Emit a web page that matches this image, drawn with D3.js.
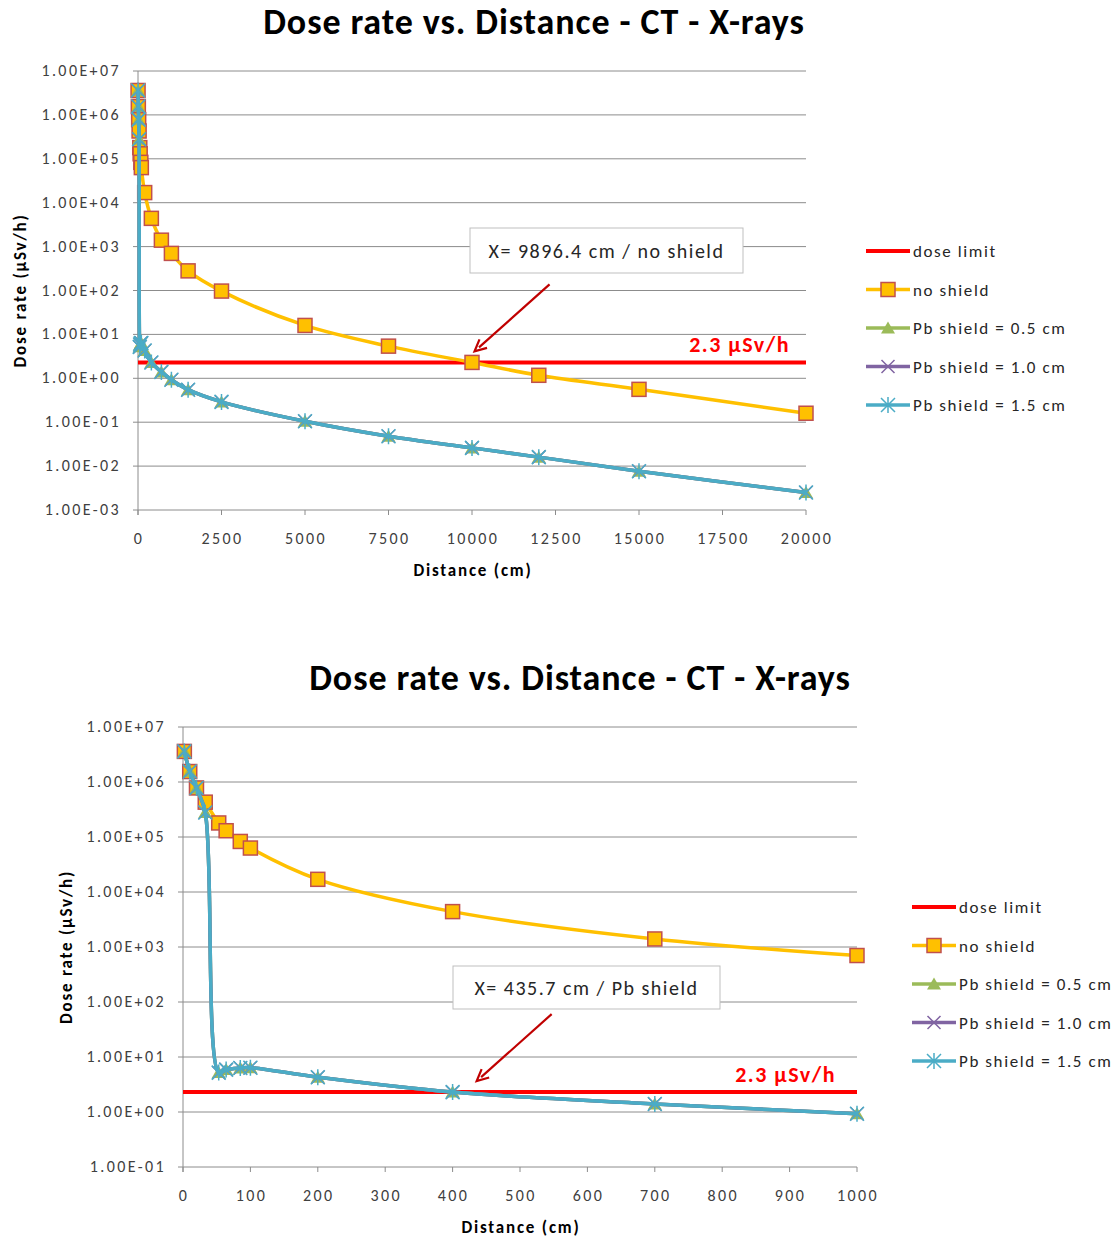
<!DOCTYPE html>
<html>
<head>
<meta charset="utf-8">
<script src="https://cdn.jsdelivr.net/npm/d3@7"></script>
<style>
  body { margin: 0; background: #fff; }
  svg text { font-family: Carlito, Lato, "Open Sans", sans-serif; }
</style>
</head>
<body>
<svg id="chart" width="1117" height="1239"></svg>
<script>
// distances (cm) and dose rates (µSv/h)
const distance = [2, 10, 20, 33, 53, 64, 85, 100, 200, 400, 700, 1000, 1500, 2500, 5000, 7500, 10000, 12000, 15000, 20000];
const noShield = [3.6e6, 1.55e6, 7.8e5, 4.3e5, 1.8e5, 1.3e5, 8.3e4, 6.3e4, 1.7e4, 4.4e3, 1.4e3, 700, 280, 97, 16, 5.4, 2.3, 1.17, 0.56, 0.16];
const pb05 = [3.6e6, 1.55e6, 7.8e5, 2.8e5, 5.2, 5.9, 6.3, 6.4, 4.3, 2.3, 1.4, 0.93, 0.55, 0.29, 0.105, 0.048, 0.026, 0.016, 0.0076, 0.0025];
const pb10 = [3.6e6, 1.55e6, 7.8e5, 2.8e5, 5.2, 5.9, 6.3, 6.4, 4.3, 2.3, 1.4, 0.93, 0.55, 0.29, 0.105, 0.048, 0.026, 0.016, 0.0076, 0.0025];
const pb15 = [3.6e6, 1.55e6, 7.8e5, 2.8e5, 5.2, 5.9, 6.3, 6.4, 4.3, 2.3, 1.4, 0.93, 0.55, 0.29, 0.105, 0.048, 0.026, 0.016, 0.0076, 0.0025];
const doseLimit = 2.3;

const topXTicks = [0, 2500, 5000, 7500, 10000, 12500, 15000, 17500, 20000];
const topYTicks = [1e7, 1e6, 1e5, 1e4, 1e3, 1e2, 1e1, 1e0, 1e-1, 1e-2, 1e-3];
const bottomXTicks = [0, 100, 200, 300, 400, 500, 600, 700, 800, 900, 1000];
const bottomYTicks = [1e7, 1e6, 1e5, 1e4, 1e3, 1e2, 1e1, 1e0, 1e-1];

const seriesNames = ['dose limit', 'no shield', 'Pb shield = 0.5 cm', 'Pb shield = 1.0 cm', 'Pb shield = 1.5 cm'];
const seriesValues = [null, noShield, pb05, pb10, pb15];
const seriesColors = ['#ff0000', '#ffc000', '#9bbb59', '#8064a2', '#4bacc6'];
const seriesMarkers = [null, 'square', 'triangle', 'x', 'star'];

const svg = d3.select('#chart');

function sci(v) {
  const e = Math.round(Math.log10(v));
  const s = e < 0 ? '-' : '+';
  return '1.00E' + s + String(Math.abs(e)).padStart(2, '0');
}

function marker(g, type, color, x, y) {
  if (type === 'square') {
    g.append('rect').attr('x', x - 7).attr('y', y - 7).attr('width', 14).attr('height', 14)
      .attr('fill', '#ffc000').attr('stroke', '#c0504d').attr('stroke-width', 1.5);
  } else if (type === 'triangle') {
    g.append('path').attr('d', `M${x},${y - 6.5}L${x + 7},${y + 5.5}L${x - 7},${y + 5.5}Z`)
      .attr('fill', color);
  } else if (type === 'x') {
    g.append('path').attr('d', `M${x - 6.5},${y - 6.5}L${x + 6.5},${y + 6.5}M${x - 6.5},${y + 6.5}L${x + 6.5},${y - 6.5}`)
      .attr('stroke', color).attr('stroke-width', 1.5);
  } else if (type === 'star') {
    g.append('path').attr('d', `M${x - 7},${y - 7}L${x + 7},${y + 7}M${x - 7},${y + 7}L${x + 7},${y - 7}M${x},${y - 8}L${x},${y + 8}`)
      .attr('stroke', color).attr('stroke-width', 1.5);
  }
}

function drawChart(c) {
  const g = svg.append('g');
  const x = d3.scaleLinear().domain([0, c.xMax]).range([c.left, c.right]);
  const y = d3.scaleLog().domain([c.yMin, 1e7]).range([c.bottom, c.top]);

  // title
  g.append('text').attr('x', c.titleX).attr('y', c.titleY).attr('text-anchor', 'middle')
    .attr('font-size', 36).attr('font-weight', 'bold').attr('letter-spacing', 0.9).attr('fill', '#000')
    .text('Dose rate vs. Distance - CT - X-rays');

  // gridlines + y labels
  c.yTicks.forEach(t => {
    g.append('line').attr('x1', c.left - 5).attr('x2', c.right)
      .attr('y1', y(t)).attr('y2', y(t)).attr('stroke', '#8c8c8c').attr('stroke-width', 1);
    g.append('text').attr('x', c.left - 17).attr('y', y(t) + 5).attr('text-anchor', 'end')
      .attr('font-size', 16).attr('letter-spacing', 2.4).attr('fill', '#404040').text(sci(t));
  });
  g.append('line').attr('x1', c.left).attr('x2', c.left).attr('y1', c.top).attr('y2', c.bottom + 5)
    .attr('stroke', '#8c8c8c');
  c.xTicks.forEach(t => {
    g.append('line').attr('x1', x(t)).attr('x2', x(t)).attr('y1', c.bottom).attr('y2', c.bottom + 5)
      .attr('stroke', '#8c8c8c');
    g.append('text').attr('x', x(t) + 1).attr('y', c.bottom + 34).attr('text-anchor', 'middle')
      .attr('font-size', 16).attr('letter-spacing', 2.4).attr('fill', '#404040').text(t);
  });

  // axis titles
  g.append('text').attr('x', (c.left + c.right) / 2 + 1).attr('y', c.bottom + 66).attr('text-anchor', 'middle')
    .attr('font-size', 17).attr('font-weight', 'bold').attr('letter-spacing', 1.8).attr('fill', '#000')
    .text('Distance (cm)');
  g.append('text').attr('transform', `translate(${c.yTitleX},${(c.top + c.bottom) / 2}) rotate(-90)`)
    .attr('text-anchor', 'middle').attr('font-size', 17).attr('font-weight', 'bold').attr('letter-spacing', 1.8)
    .attr('fill', '#000').text('Dose rate (µSv/h)');

  // dose limit
  g.append('line').attr('x1', x(0)).attr('x2', x(c.xMax)).attr('y1', y(doseLimit)).attr('y2', y(doseLimit))
    .attr('stroke', seriesColors[0]).attr('stroke-width', 4);

  const line = d3.line().x(d => x(d[0])).y(d => y(d[1])).curve(d3.curveCatmullRom.alpha(0.5));
  for (let i = 1; i < seriesValues.length; i++) {
    const pts = distance.map((d, k) => [d, seriesValues[i][k]]).filter(p => p[0] <= c.xMax);
    g.append('path').attr('d', line(pts)).attr('fill', 'none')
      .attr('stroke', seriesColors[i]).attr('stroke-width', 3.5).attr('stroke-linejoin', 'round');
    const mg = g.append('g');
    pts.forEach(p => marker(mg, seriesMarkers[i], seriesColors[i], x(p[0]), y(p[1])));
  }

  // limit label
  g.append('text').attr('x', c.limitLabelX).attr('y', y(doseLimit) - 10).attr('text-anchor', 'end')
    .attr('font-size', 22).attr('font-weight', 'bold').attr('letter-spacing', 1.5)
    .attr('fill', '#ff0000').text('2.3 µSv/h');

  // annotation box + arrow
  g.append('rect').attr('x', c.box.x).attr('y', c.box.y).attr('width', c.box.w).attr('height', c.box.h)
    .attr('fill', '#fff').attr('stroke', '#bfbfbf');
  g.append('text').attr('x', c.box.x + c.box.w / 2).attr('y', c.box.y + c.box.h / 2 + 7)
    .attr('text-anchor', 'middle').attr('font-size', 20).attr('letter-spacing', 1.5)
    .attr('fill', '#262626').text(c.box.text);
  const tx = x(c.cross) + c.tipDx, ty = y(doseLimit) - 11;
  const sx = tx + 75, sy = ty - 67;
  const ang = Math.atan2(ty - sy, tx - sx);
  g.append('line').attr('x1', sx).attr('y1', sy).attr('x2', tx - 6 * Math.cos(ang)).attr('y2', ty - 6 * Math.sin(ang))
    .attr('stroke', '#c00000').attr('stroke-width', 2.2);
  const hl = 13, hw = 0.45;
  g.append('path').attr('d', `M${tx - hl * Math.cos(ang - hw)},${ty - hl * Math.sin(ang - hw)}L${tx},${ty}L${tx - hl * Math.cos(ang + hw)},${ty - hl * Math.sin(ang + hw)}`)
    .attr('fill', 'none').attr('stroke', '#c00000').attr('stroke-width', 2.2);

  // legend
  const lg = g.append('g');
  seriesNames.forEach((n, i) => {
    const ly = c.legendY + i * 38.5;
    lg.append('line').attr('x1', c.legendX).attr('x2', c.legendX + 44).attr('y1', ly).attr('y2', ly)
      .attr('stroke', seriesColors[i]).attr('stroke-width', i === 0 ? 4 : 3.5);
    if (seriesMarkers[i]) marker(lg, seriesMarkers[i], seriesColors[i], c.legendX + 22, ly);
    lg.append('text').attr('x', c.legendX + 47).attr('y', ly + 6).attr('font-size', 17)
      .attr('letter-spacing', 1.6).attr('fill', '#262626').text(n);
  });
}

drawChart({
  left: 138, right: 806, top: 71, bottom: 510, xMax: 20000, yMin: 1e-3,
  xTicks: topXTicks, yTicks: topYTicks,
  titleX: 534, titleY: 34, yTitleX: 26,
  limitLabelX: 790, legendX: 866, legendY: 251,
  cross: 9896.4, tipDx: 6,
  box: { x: 470, y: 228, w: 273, h: 45, text: 'X= 9896.4 cm / no shield' }
});

drawChart({
  left: 183, right: 857, top: 727, bottom: 1167, xMax: 1000, yMin: 1e-1,
  xTicks: bottomXTicks, yTicks: bottomYTicks,
  titleX: 580, titleY: 690, yTitleX: 72,
  limitLabelX: 836, legendX: 912, legendY: 907,
  cross: 435.7, tipDx: 0,
  box: { x: 453, y: 966, w: 267, h: 43, text: 'X= 435.7 cm / Pb shield' }
});
</script>
</body>
</html>
